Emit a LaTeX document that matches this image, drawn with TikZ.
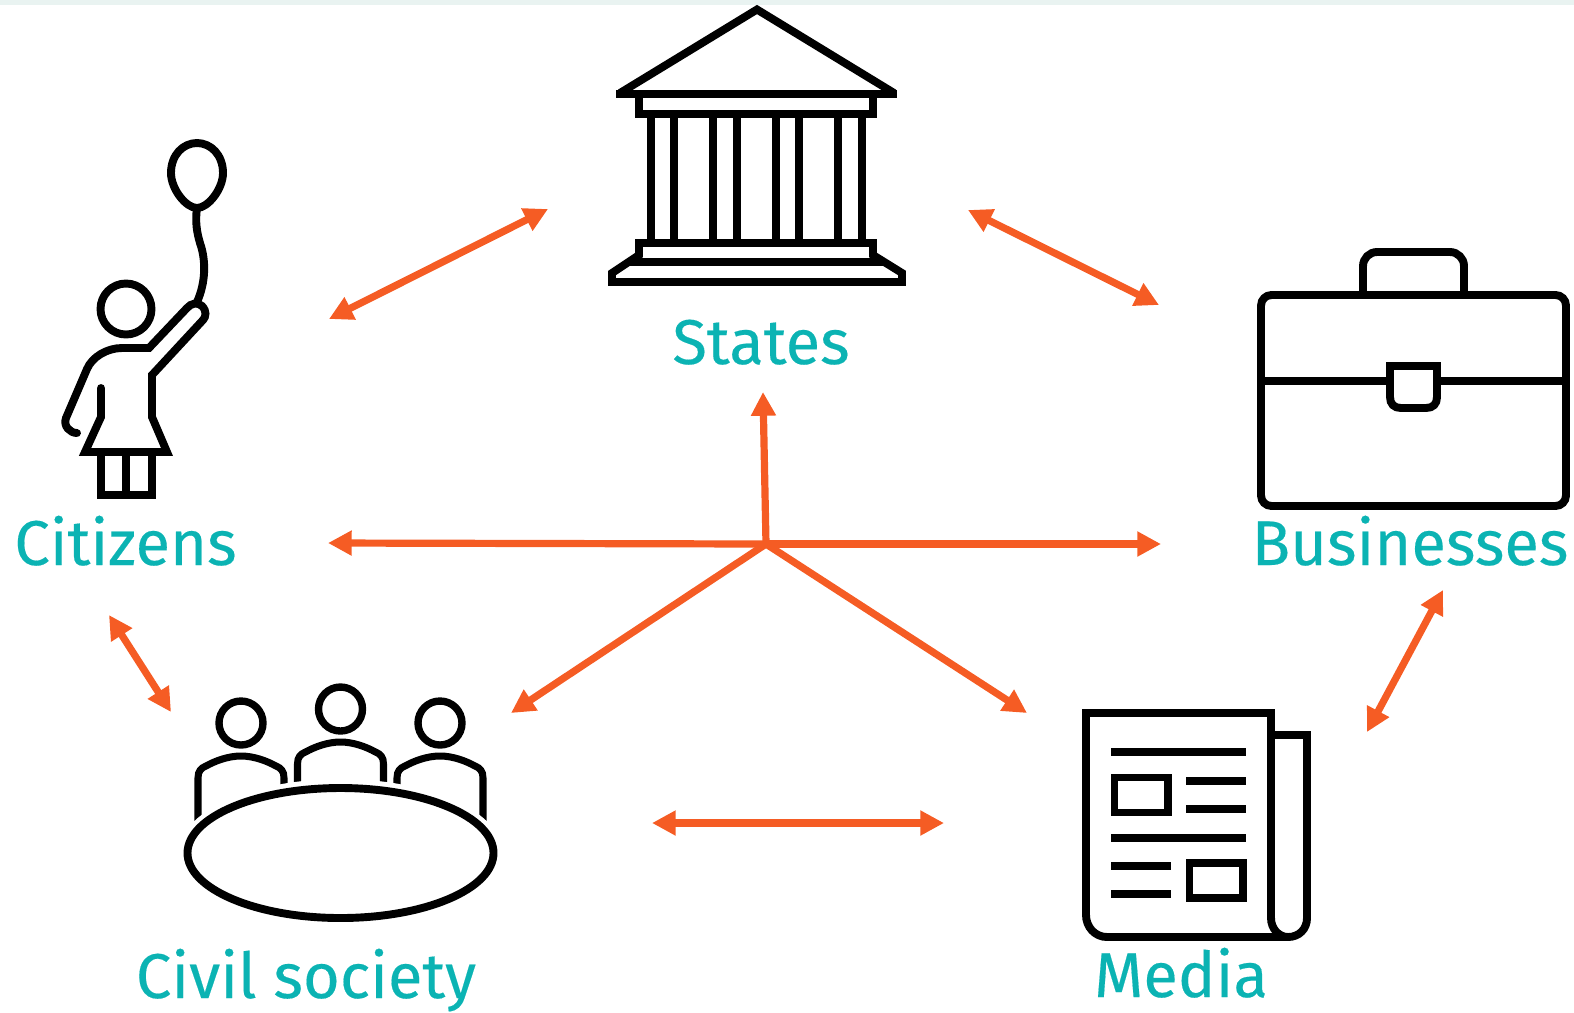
\documentclass[tikz,border=0pt]{standalone}
\usepackage{fontspec}
\usepackage{tikz}
\usetikzlibrary{arrows.meta}
\newfontfamily\labelfont[FakeBold=0.25]{Fira Sans}
\definecolor{band_green}{HTML}{E9F3F1}
\definecolor{label_teal}{HTML}{0BB3B3}
\definecolor{arrow_orange}{HTML}{F55C24}
\tikzstyle{icon} = [draw=black, line width=4.5pt, miter limit=3]
\tikzstyle{label_text} = [text=label_teal, font=\labelfont\fontsize{36}{36}\selectfont, anchor=base, inner sep=0pt]
\tikzstyle{two_way} = [draw=arrow_orange, line width=4.1pt, {Triangle[length=13.5pt,width=13.5pt]}-{Triangle[length=13.5pt,width=13.5pt]}]
\tikzstyle{one_way} = [draw=arrow_orange, line width=4.1pt, -{Triangle[length=13.5pt,width=13.5pt]}]

\begin{document}
\begin{tikzpicture}[x=0.02cm, y=-0.02cm]
        \useasboundingbox (0,0) rectangle (1574,1012);
        \fill[band_green] (0,0) rectangle (1574,4.5);

        % labels
        \node(citizens) [label_text] at (125.5,565) {Citizens};
        \node(states) [label_text] at (761,364) {States};
        \node(businesses) [label_text] at (1410,565) {Businesses};
        \node(civil) [label_text] at (306,998) {Civil society};
        \node(media) [label_text] at (1181,997) {Media};

        % arrow ends
        \coordinate(hub) at (766,544);
        \coordinate(hub_up) at (763,392);
        \coordinate(hub_left) at (328,543);
        \coordinate(hub_right) at (1161,544);
        \coordinate(hub_civil) at (511,713);
        \coordinate(hub_media) at (1027,713);
        \coordinate(cs_a) at (548,209);
        \coordinate(cs_b) at (329,319);
        \coordinate(sb_a) at (968,210);
        \coordinate(sb_b) at (1159,305);
        \coordinate(cc_a) at (109,615);
        \coordinate(cc_b) at (171,712);
        \coordinate(bm_a) at (1443,590);
        \coordinate(bm_b) at (1367,732);
        \coordinate(cm_a) at (652,823);
        \coordinate(cm_b) at (944,823);

        \draw[one_way] (hub) -- (hub_up);
        \draw[one_way] (hub) -- (hub_left);
        \draw[one_way] (hub) -- (hub_right);
        \draw[one_way] (hub) -- (hub_civil);
        \draw[one_way] (hub) -- (hub_media);
        \draw[two_way] (cs_a) -- (cs_b);
        \draw[two_way] (sb_a) -- (sb_b);
        \draw[two_way] (cc_a) -- (cc_b);
        \draw[two_way] (bm_a) -- (bm_b);
        \draw[two_way] (cm_a) -- (cm_b);

        % citizen with balloon
        \draw[icon] (197,208) .. controls (186,208) and (171,189) .. (171,173) .. controls (171,155) and (183,143) .. (197,143) .. controls (211,143) and (223,155) .. (223,173) .. controls (223,189) and (208,208) .. (197,208);
        \draw[icon] (197,208) .. controls (195,222) and (197,233) .. (200,243) .. controls (206,260) and (206,282) .. (197,302);
        \draw[icon] (126,309) circle (25.5);
        \draw[icon, line cap=round] (77,433) .. controls (70,433) and (63,426) .. (66,418) -- (87,369) .. controls (92,357) and (107,348) .. (122,348) -- (149,348) -- (187,308) .. controls (191,303) and (198,302) .. (202,306) .. controls (207,311) and (206,317) .. (203,320) -- (152,375) -- (152,417) -- (167,452) -- (85,452) -- (101,417) -- (101,388);
        \draw[icon] (101,452) -- (101,495) -- (152,495) -- (152,452);
        \draw[icon] (126,452) -- (126,495);

        % state building
        \draw[icon] (620,93) -- (757,9.5) -- (894,93);
        \draw[icon] (616,94) -- (897,94);
        \draw[icon] (639,94) -- (639,114) -- (873,114) -- (873,94);
        \draw[icon] (651,114) -- (651,243);
        \draw[icon] (674,114) -- (674,243);
        \draw[icon] (713,114) -- (713,243);
        \draw[icon] (737,114) -- (737,243);
        \draw[icon] (776,114) -- (776,243);
        \draw[icon] (799,114) -- (799,243);
        \draw[icon] (838,114) -- (838,243);
        \draw[icon] (862,114) -- (862,243);
        \draw[icon] (639,243) -- (873,243) -- (873,255) -- (902,273) -- (902,282) -- (612,282) -- (612,273) -- (639,255) -- cycle;
        \draw[icon] (628,262) -- (884,262);

        % briefcase
        \draw[icon, rounded corners=6pt] (1261,295) rectangle (1566,506);
        \draw[icon, rounded corners=8pt] (1363,295) -- (1363,252) -- (1464,252) -- (1464,295);
        \draw[icon] (1261,381) -- (1390,381);
        \draw[icon] (1437,381) -- (1566,381);
        \draw[icon] (1390,366) -- (1390,397) .. controls (1390,404) and (1394,408) .. (1401,408) -- (1426,408) .. controls (1433,408) and (1437,404) .. (1437,397) -- (1437,366) -- cycle;

        % civil society table
        \draw[icon, line width=4.2pt] (241,723) circle (22);
        \draw[icon, line width=4.2pt] (340.5,709) circle (22);
        \draw[icon, line width=4.2pt] (440,723) circle (22);
        \draw[icon, line width=4pt] (198,830) -- (198,778) .. controls (198,771) and (201,768) .. (206,766) .. controls (215,761) and (228,756) .. (241,756) .. controls (254,756) and (267,761) .. (276,766) .. controls (281,768) and (284,771) .. (284,778) -- (284,795);
        \draw[icon, line width=4pt] (297.5,795) -- (297.5,764) .. controls (297.5,757) and (300.5,754) .. (305.5,752) .. controls (314.5,747) and (327.5,742) .. (340.5,742) .. controls (353.5,742) and (366.5,747) .. (375.5,752) .. controls (380.5,754) and (383.5,757) .. (383.5,764) -- (383.5,795);
        \draw[icon, line width=4pt] (397,795) -- (397,778) .. controls (397,771) and (400,768) .. (405,766) .. controls (414,761) and (427,756) .. (440,756) .. controls (453,756) and (466,761) .. (475,766) .. controls (480,768) and (483,771) .. (483,778) -- (483,830);
        \fill[white] (340.5,853) ellipse (162 and 74);
        \draw[icon] (340.5,853) ellipse (153 and 65);

        % newspaper
        \draw[icon] (1271,735) -- (1307,735) -- (1307,918) .. controls (1307,929) and (1299,937) .. (1288,937) -- (1107,937) .. controls (1095,937) and (1086,927) .. (1086,915) -- (1086,713) -- (1271,713) -- (1271,918) .. controls (1271,929) and (1279,937) .. (1288,937);
        \draw[icon] (1111,752) -- (1246,752);
        \draw[icon] (1114.5,777.5) rectangle (1168,812.5);
        \draw[icon] (1186,781) -- (1246,781);
        \draw[icon] (1186,809) -- (1246,809);
        \draw[icon] (1111,838) -- (1246,838);
        \draw[icon] (1111,866) -- (1171,866);
        \draw[icon] (1111,894) -- (1171,894);
        \draw[icon] (1189.5,863) rectangle (1243,898);
\end{tikzpicture}
\end{document}
